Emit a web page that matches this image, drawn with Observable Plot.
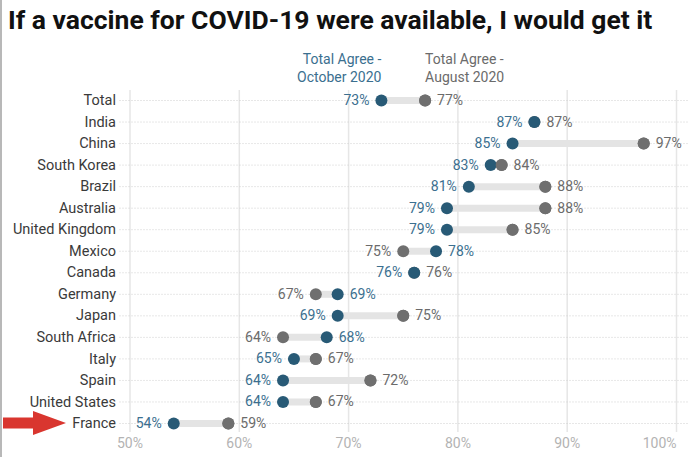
<!DOCTYPE html>
<html>
<head>
<meta charset="utf-8">
<script src="https://cdn.jsdelivr.net/npm/d3@7"></script>
<script src="https://cdn.jsdelivr.net/npm/@observablehq/plot@0.6"></script>
<style>
  html, body { margin: 0; padding: 0; background: #fff; }
  body { width: 690px; height: 457px; overflow: hidden; box-shadow: inset 2px 0 #b8b8b8; font-family: Roboto, sans-serif; }
  #title { height: 42px; padding-left: 8px; font: bold 26.5px Roboto, sans-serif; line-height: 40px; color: #111; white-space: nowrap; }
  #chart svg { display: block; overflow: visible; }
</style>
</head>
<body>
<div id="title">If a vaccine for COVID-19 were available, I would get it</div>
<div id="chart"></div>
<script>
// Share who would get a COVID-19 vaccine, by country
const countries = ["Total", "India", "China", "South Korea", "Brazil", "Australia", "United Kingdom",
  "Mexico", "Canada", "Germany", "Japan", "South Africa", "Italy", "Spain", "United States", "France"];
const october2020 = [73, 87, 85, 83, 81, 79, 79, 78, 76, 69, 69, 68, 65, 64, 64, 54];
const august2020  = [77, 87, 97, 84, 88, 88, 85, 75, 76, 67, 75, 64, 67, 72, 67, 59];
const xTicks = [50, 60, 70, 80, 90, 100];

const blue = "#285a76", blueText = "#3b6f8f";
const gray = "#6f6f6f", grayText = "#6b6b6b";

const rows = countries.map((country, i) => ({country, oct: october2020[i], aug: august2020[i]}));

// One label per dot: the lower value sits left of its dot, the higher one right
const labels = rows.flatMap(d => {
  const octLeft = d.oct <= d.aug;
  return [
    {country: d.country, value: d.oct, series: "oct", side: octLeft ? "left" : "right"},
    {country: d.country, value: d.aug, series: "aug", side: octLeft ? "right" : "left"}
  ];
});
const fmt = v => `${v}%`;
const tickStyle = {tickSize: 0, tickPadding: 6, tickFormat: fmt, color: "#b3b3b3", label: null, fontSize: 14};

const plot = Plot.plot({
  width: 690,
  height: 415,
  marginLeft: 129.5,
  marginRight: 14,
  marginTop: 48,
  marginBottom: 25,
  style: {fontFamily: "Roboto, sans-serif", fontSize: "14px", background: "transparent", overflow: "visible"},
  x: {domain: [50, 100]},
  y: {domain: countries, range: [58, 381], padding: 0, round: false},
  marks: [
    Plot.ruleX(xTicks, {stroke: "#e6e6e6", strokeWidth: 1.5}),
    Plot.ruleY(countries, {stroke: "#cfcfcf", strokeDasharray: "1,2", insetLeft: -10, insetRight: -12}),
    // the last tick label is kept inside the frame
    Plot.axisX({...tickStyle, ticks: xTicks.slice(0, -1)}),
    Plot.axisX({...tickStyle, ticks: xTicks.slice(-1), textAnchor: "end"}),
    Plot.axisY({tickSize: 0, tickPadding: 14, color: "#3a3a3a", label: null, fontSize: 14.5}),
    Plot.ruleY(rows, {y: "country", x1: "oct", x2: "aug", stroke: "#e4e4e4", strokeWidth: 7}),
    Plot.dot(rows, {y: "country", x: "aug", r: 6, fill: gray}),
    Plot.dot(rows, {y: "country", x: "oct", r: 6, fill: blue}),
    Plot.dot(rows.filter(d => d.aug > d.oct), {y: "country", x: "aug", r: 6, fill: gray}),
    Plot.text(labels.filter(d => d.side === "left"), {
      y: "country", x: "value", text: d => fmt(d.value), textAnchor: "end", dx: -12,
      fill: d => d.series === "oct" ? blueText : grayText
    }),
    Plot.text(labels.filter(d => d.side === "right"), {
      y: "country", x: "value", text: d => fmt(d.value), textAnchor: "start", dx: 12,
      fill: d => d.series === "oct" ? blueText : grayText
    }),
    // Series annotations above the Total row
    Plot.ruleX(rows.slice(0, 1), {x: "oct", y: "country", stroke: "#7a7a7a", insetTop: -16, insetBottom: 5}),
    Plot.ruleX(rows.slice(0, 1), {x: "aug", y: "country", stroke: "#7a7a7a", insetTop: -16, insetBottom: 5}),
    Plot.text(rows.slice(0, 1), {x: "oct", y: "country", text: () => "Total Agree -\nOctober 2020",
      textAnchor: "end", lineAnchor: "bottom", dy: -19, lineHeight: 1.28, fill: blueText}),
    Plot.text(rows.slice(0, 1), {x: "aug", y: "country", text: () => "Total Agree -\nAugust 2020",
      textAnchor: "start", lineAnchor: "bottom", dy: -19, lineHeight: 1.28, fill: grayText})
  ]
});

// Red pointer to the France row
const yFrance = plot.scale("y").apply("France");
d3.select(plot).append("path")
  .attr("transform", `translate(0,${yFrance})`)
  .attr("d", "M3,-5.5H33V-12L66,0L33,12V5.5H3Z")
  .attr("fill", "#d9362f");

document.getElementById("chart").appendChild(plot);
</script>
</body>
</html>
